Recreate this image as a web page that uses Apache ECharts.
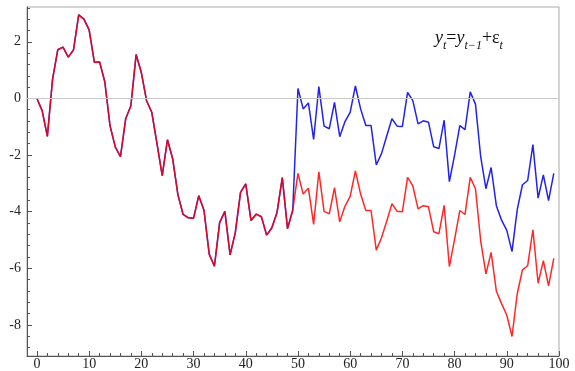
<!DOCTYPE html>
<html>
<head>
<meta charset="utf-8">
<script src="https://cdn.jsdelivr.net/npm/echarts@6/dist/echarts.min.js"></script>
<style>html,body{margin:0;padding:0;background:#fff}#c{width:575px;height:371px}</style>
</head>
<body>
<div id="c"></div>
<script>
// shared path of the walk, t = 0..49
const walkShared = [0, -0.43, -1.34, 0.68, 1.72, 1.81, 1.46, 1.71, 2.95, 2.80,
  2.42, 1.28, 1.29, 0.59, -0.96, -1.71, -2.06, -0.72, -0.26, 1.55,
  0.91, -0.08, -0.49, -1.60, -2.73, -1.46, -2.13, -3.40, -4.10, -4.22,
  -4.23, -3.44, -3.95, -5.50, -5.93, -4.39, -3.99, -5.53, -4.74, -3.32,
  -3.02, -4.31, -4.09, -4.18, -4.83, -4.57, -4.02, -2.80, -4.60, -3.95];
// red continuation, t = 50..99
const redTail = [-2.65, -3.38, -3.17, -4.45, -2.59, -3.99, -4.08, -3.15, -4.36, -3.81,
  -3.46, -2.56, -3.38, -3.96, -3.96, -5.36, -4.92, -4.34, -3.72, -3.99,
  -4.00, -2.79, -3.09, -3.90, -3.79, -3.83, -4.71, -4.78, -3.78, -5.94,
  -4.98, -3.96, -4.10, -2.79, -3.19, -5.03, -6.20, -5.44, -6.81, -7.25,
  -7.66, -8.41, -6.90, -6.06, -5.91, -4.64, -6.53, -5.73, -6.62, -5.65];
// blue continuation, t = 50..99
const blueTail = [0.35, -0.37, -0.16, -1.45, 0.42, -0.98, -1.07, -0.14, -1.35, -0.82,
  -0.49, 0.44, -0.37, -0.96, -0.96, -2.35, -1.95, -1.33, -0.72, -0.98,
  -0.99, 0.21, -0.08, -0.90, -0.79, -0.84, -1.71, -1.77, -0.77, -2.94,
  -2.00, -0.96, -1.10, 0.23, -0.20, -2.06, -3.19, -2.44, -3.79, -4.30,
  -4.66, -5.41, -3.93, -3.05, -2.90, -1.63, -3.52, -2.70, -3.61, -2.65];
const xTickLabels = [0, 10, 20, 30, 40, 50, 60, 70, 80, 90, 100];
const yTickLabels = [2, 0, -2, -4, -6, -8];

const redValues = walkShared.concat(redTail);
const blueValues = walkShared.concat(blueTail);
const redData = redValues.map((v, i) => [i, v]);
const blueData = blueValues.map((v, i) => [i, v]);

const xMinor = [];
for (let v = 0; v <= 100; v += 2) if (v % 10 !== 0) xMinor.push(v);
const yMinor = [];
for (let k = -22; k <= 8; k++) { const v = k * 0.4; if (k % 5 !== 0) yMinor.push(+v.toFixed(1)); }

const font = 'Liberation Serif';
const chart = echarts.init(document.getElementById('c'), null, {renderer: 'canvas'});
chart.setOption({
  animation: false,
  backgroundColor: '#fff',
  grid: {left: 27, top: 7, right: 16, bottom: 11, show: true, borderColor: '#a8a8a8', borderWidth: 1, containLabel: false},
  xAxis: [{
    type: 'value', min: -1.9, max: 100, position: 'bottom',
    axisLine: {show: true, onZero: false, lineStyle: {color: '#555', width: 1}},
    axisTick: {show: true, inside: true, length: 5, customValues: xTickLabels, lineStyle: {color: '#555'}},
    axisLabel: {show: true, customValues: xTickLabels, margin: 1, fontFamily: font, fontSize: 14, color: '#222'},
    splitLine: {show: false}
  }, {
    type: 'value', min: -1.9, max: 100, position: 'bottom',
    axisLine: {show: false, onZero: false},
    axisTick: {show: true, inside: true, length: 3, customValues: xMinor, lineStyle: {color: '#555'}},
    axisLabel: {show: false},
    splitLine: {show: false}
  }],
  yAxis: [{
    type: 'value', min: -9.1, max: 3.23, position: 'left',
    axisLine: {show: true, onZero: false, lineStyle: {color: '#555', width: 1}},
    axisTick: {show: true, inside: true, length: 5, customValues: yTickLabels, lineStyle: {color: '#555'}},
    axisLabel: {show: true, customValues: yTickLabels, margin: 6, fontFamily: font, fontSize: 14, color: '#222'},
    splitLine: {show: false}
  }, {
    type: 'value', min: -9.1, max: 3.23, position: 'left',
    axisLine: {show: false, onZero: false},
    axisTick: {show: true, inside: true, length: 3, customValues: yMinor, lineStyle: {color: '#555'}},
    axisLabel: {show: false},
    splitLine: {show: false}
  }],
  series: [{
    type: 'line', data: [], z: 1, silent: true,
    markLine: {silent: true, symbol: 'none', label: {show: false},
      lineStyle: {color: '#c8c8c8', type: 'solid', width: 1}, data: [{yAxis: 0}]}
  }, {
    name: 'blue', type: 'line', data: blueData, z: 2, showSymbol: false, symbol: 'none',
    lineStyle: {color: '#2222ee', width: 1.5}
  }, {
    name: 'red', type: 'line', data: redData, z: 3, showSymbol: false, symbol: 'none',
    lineStyle: {color: '#ff0000', width: 1.5, opacity: 0.85}
  }],
  graphic: [{
    type: 'text', left: 435, top: 29, z: 10,
    style: {
      text: '{i|y}{s|t}{n|=}{i|y}{s|t−1}{n|+ε}{s|t}',
      rich: {
        i: {fontFamily: font, fontStyle: 'italic', fontSize: 18, lineHeight: 18, verticalAlign: 'top', fill: '#111'},
        n: {fontFamily: font, fontSize: 18, lineHeight: 18, verticalAlign: 'top', fill: '#111'},
        s: {fontFamily: font, fontStyle: 'italic', fontSize: 12, lineHeight: 12, padding: [11, 0, 0, 0], verticalAlign: 'top', fill: '#111'}
      }
    }
  }]
});
</script>
</body>
</html>
